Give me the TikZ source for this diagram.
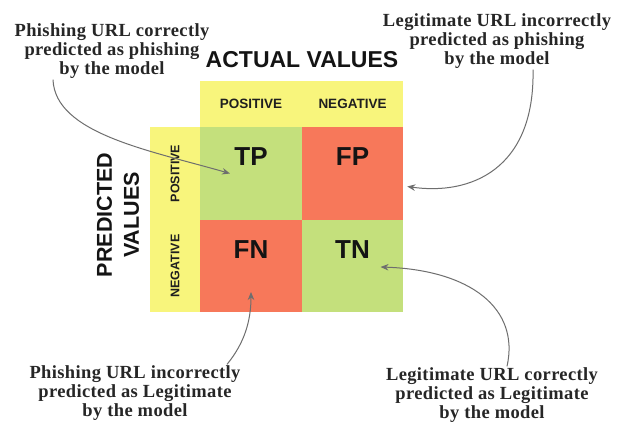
\documentclass[tikz,border=0pt]{standalone}
\usepackage{fontspec}
\setmainfont{Liberation Sans}
\newfontfamily\annfamily[LetterSpace=2]{Liberation Serif}
\usetikzlibrary{arrows.meta}
\definecolor{cyel}{HTML}{F8F57C}
\definecolor{cgrn}{HTML}{C4E07C}
\definecolor{cred}{HTML}{F7785A}
\definecolor{carrow}{HTML}{6E6E6E}
\definecolor{cann}{HTML}{262626}
\begin{document}
\begin{tikzpicture}[x=1pt,y=-1pt,
  box/.style={inner sep=0pt,outer sep=0pt,draw=none},
  cellbox/.style={box,minimum width=101.5pt,minimum height=93pt},
  celltext/.style={inner sep=0pt,font=\bfseries\fontsize{26}{26}\selectfont,text=black!92},
  headbox/.style={box,fill=cyel,minimum width=101.5pt,minimum height=46pt,
    font=\bfseries\fontsize{13.5}{14}\selectfont,text=black!88},
  sidebox/.style={box,fill=cyel,rotate=90,minimum height=50pt,
    font=\bfseries\fontsize{12.5}{13}\selectfont,text=black!88},
  title/.style={inner sep=0pt,font=\bfseries\fontsize{23}{23}\selectfont,text=black!92},
  ann/.style={inner sep=1pt,align=center,text=cann,
    font=\annfamily\bfseries\fontsize{18.5}{19}\selectfont},
  conn/.style={draw=carrow,line width=1pt,-{Stealth[length=8pt,width=6.5pt]}}
]
\useasboundingbox (0,0) rectangle (618,430);
\fill[white] (0,0) rectangle (618,430);

% header row
\node[headbox] (hpos) at (251,104) {POSITIVE};
\node[headbox] (hneg) at (352.5,104) {NEGATIVE};
% side column
\node[sidebox,minimum width=93pt] (vpos) at (175,173.5) {POSITIVE};
\node[sidebox,minimum width=92pt] (vneg) at (175,266) {NEGATIVE};

% cells
\node[cellbox,fill=cgrn] (tp) at (251,173.5) {};
\node[cellbox,fill=cred] (fp) at (352.5,173.5) {};
\node[cellbox,fill=cred,minimum height=92pt] (fn) at (251,266) {};
\node[cellbox,fill=cgrn,minimum height=92pt] (tn) at (352.5,266) {};
\node[celltext] (tpl) at ([yshift=17pt]tp.center) {TP};
\node[celltext] (fpl) at ([yshift=17pt]fp.center) {FP};
\node[celltext] (fnl) at ([yshift=16pt]fn.center) {FN};
\node[celltext] (tnl) at ([yshift=16pt]tn.center) {TN};

% titles
\node[title] (actual) at (302,60) {ACTUAL VALUES};
\node[title,rotate=90,align=center,font=\bfseries\fontsize{21.5}{27}\selectfont] (pred) at (118,215) {PREDICTED\\VALUES};

% annotations
\node[ann] (a1) at (112,51) {Phishing URL correctly\\predicted as phishing\\by the model};
\node[ann] (a2) at (497,41) {Legitimate URL incorrectly\\predicted as phishing\\by the model};
\node[ann] (a3) at (135,393) {Phishing URL incorrectly\\predicted as Legitimate\\by the model};
\node[ann] (a4) at (492,395) {Legitimate URL correctly\\predicted as Legitimate\\by the model};

% connectors
\draw[conn] ([xshift=-59pt]a1.south) .. controls +(2,54) and +(-80,-23) .. ([xshift=-21pt]tp.center);
\draw[conn] ([xshift=36pt]a2.south) .. controls +(2,100) and +(63,9) .. ([xshift=4pt,yshift=-13pt]fp.east);
\draw[conn] ([xshift=92pt]a3.north) .. controls +(18,-22) and +(0,28) .. ([yshift=-26pt]fn.center);
\draw[conn] ([xshift=15pt]a4.north) .. controls +(13,-58) and +(90,3) .. ([xshift=28pt,yshift=-1pt]tn.center);
\end{tikzpicture}
\end{document}
